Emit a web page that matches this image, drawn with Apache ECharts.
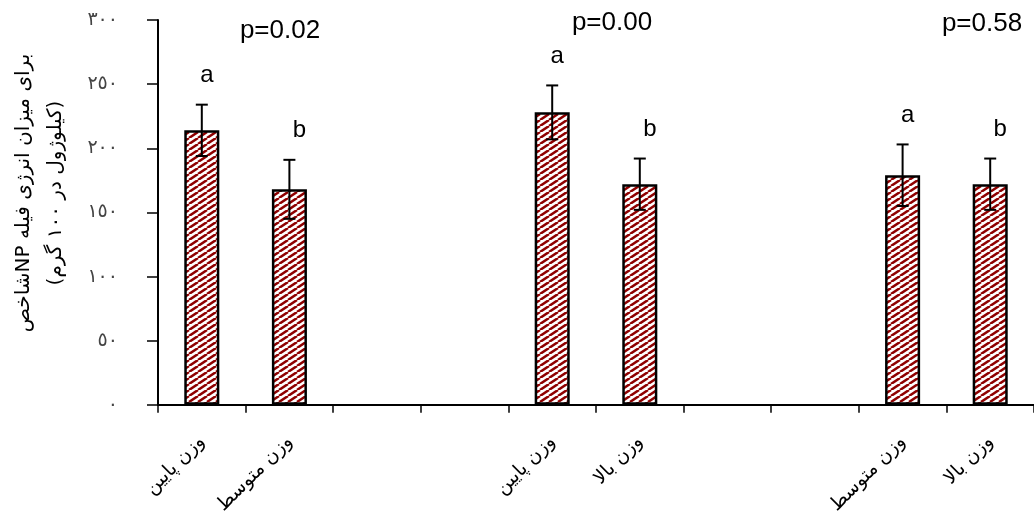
<!DOCTYPE html>
<html>
<head>
<meta charset="utf-8">
<script src="https://cdn.jsdelivr.net/npm/echarts@6/dist/echarts.min.js"></script>
<style>
html,body{margin:0;padding:0;background:#fff;}
#chart{width:1034px;height:517px;}
</style>
</head>
<body>
<div id="chart"></div>
<script>
// ---- data ----
const categories = ['وزن پایین','وزن متوسط','','','وزن پایین','وزن بالا','','','وزن متوسط','وزن بالا'];
const values     = [214, 168, null, null, 228, 172, null, null, 179, 172];
const errors     = [20, 23, null, null, 21, 20, null, null, 24, 20];
const letters    = ['a','b','','','a','b','','','a','b'];
const yTickLabels = ['٠','٥٠','١٠٠','١٥٠','٢٠٠','٢٥٠','٣٠٠'];
const pLabels    = ['p=0.02','p=0.00','p=0.58'];
const yTitle     = 'شاخصNP برای میزان انرژی فیله\n(کیلوژول در ١٠٠ گرم)';

// hatch pattern
function makeHatch(){
  const w = 9, h = 6;
  const c = document.createElement('canvas');
  c.width = w; c.height = h;
  const g = c.getContext('2d');
  g.fillStyle = '#ffffff'; g.fillRect(0,0,w,h);
  g.strokeStyle = '#8f0000'; g.lineWidth = 2.5;
  [[-w,0],[0,0],[w,0]].forEach(([dx,dy])=>{
    g.beginPath(); g.moveTo(dx, h+dy); g.lineTo(dx+w, dy); g.stroke();
  });
  return c;
}

const errData = values.map((v,i)=> v==null ? null : [i, v - errors[i], v + errors[i], letters[i]]).filter(d=>d);

const chart = echarts.init(document.getElementById('chart'), null, {renderer:'canvas'});
const option = {
  animation:false,
  backgroundColor:'#fff',
  grid:{left:158, top:20, right:-5, bottom:110, containLabel:false},
  xAxis:{
    type:'category', data:categories, boundaryGap:true,
    axisLine:{lineStyle:{color:'#000', width:2}},
    axisTick:{show:true, length:8, lineStyle:{color:'#000', width:1.5}},
    axisLabel:{interval:0, rotate:45, margin:34, color:'#000', fontSize:19, fontFamily:'DejaVu Sans'},
    splitLine:{show:false}
  },
  yAxis:{
    type:'value', min:0, max:300, interval:50,
    axisLine:{show:true, lineStyle:{color:'#000', width:2}},
    axisTick:{show:true, length:11, lineStyle:{color:'#000', width:1.5}},
    axisLabel:{margin:40, color:'#444', fontSize:19, fontFamily:'DejaVu Sans',
      formatter:(v)=> yTickLabels[Math.round(v/50)]},
    splitLine:{show:false}
  },
  series:[
    {
      type:'bar', data:values, barWidth:'40%',
      itemStyle:{color:{image:makeHatch(), repeat:'repeat'}, borderColor:'#000', borderWidth:2.5}
    },
    {
      type:'custom', data:errData, z:10,
      renderItem:(params, api)=>{
        const x = api.value(0);
        const lo = api.coord([x, api.value(1)]);
        const hi = api.coord([x, api.value(2)]);
        const cap = 6;
        const letter = errData[params.dataIndex][3];
        const lineStyle = {stroke:'#000', lineWidth:2};
        return {type:'group', children:[
          {type:'line', shape:{x1:hi[0], y1:hi[1], x2:lo[0], y2:lo[1]}, style:lineStyle},
          {type:'line', shape:{x1:hi[0]-cap, y1:hi[1], x2:hi[0]+cap, y2:hi[1]}, style:lineStyle},
          {type:'line', shape:{x1:lo[0]-cap, y1:lo[1], x2:lo[0]+cap, y2:lo[1]}, style:lineStyle},
          {type:'text', x:hi[0] + (letter==='a'?5:10), y:hi[1]-29,
           style:{text:letter, fill:'#000', font:'24px "Liberation Sans", Arial, sans-serif', align:'center', verticalAlign:'middle'}}
        ]};
      }
    }
  ],
  graphic:[
    {type:'text', x:280, y:31, style:{text:pLabels[0], fill:'#000', font:'26px "Liberation Sans", Arial, sans-serif', align:'center', verticalAlign:'middle'}},
    {type:'text', x:612, y:23, style:{text:pLabels[1], fill:'#000', font:'26px "Liberation Sans", Arial, sans-serif', align:'center', verticalAlign:'middle'}},
    {type:'text', x:982, y:24, style:{text:pLabels[2], fill:'#000', font:'26px "Liberation Sans", Arial, sans-serif', align:'center', verticalAlign:'middle'}},
    {type:'text', x:40, y:193, rotation:Math.PI/2,
     style:{text:yTitle, fill:'#000', font:'20px "DejaVu Sans", sans-serif', align:'center', verticalAlign:'middle', lineHeight:32}}
  ]
};
chart.setOption(option);
</script>
</body>
</html>
